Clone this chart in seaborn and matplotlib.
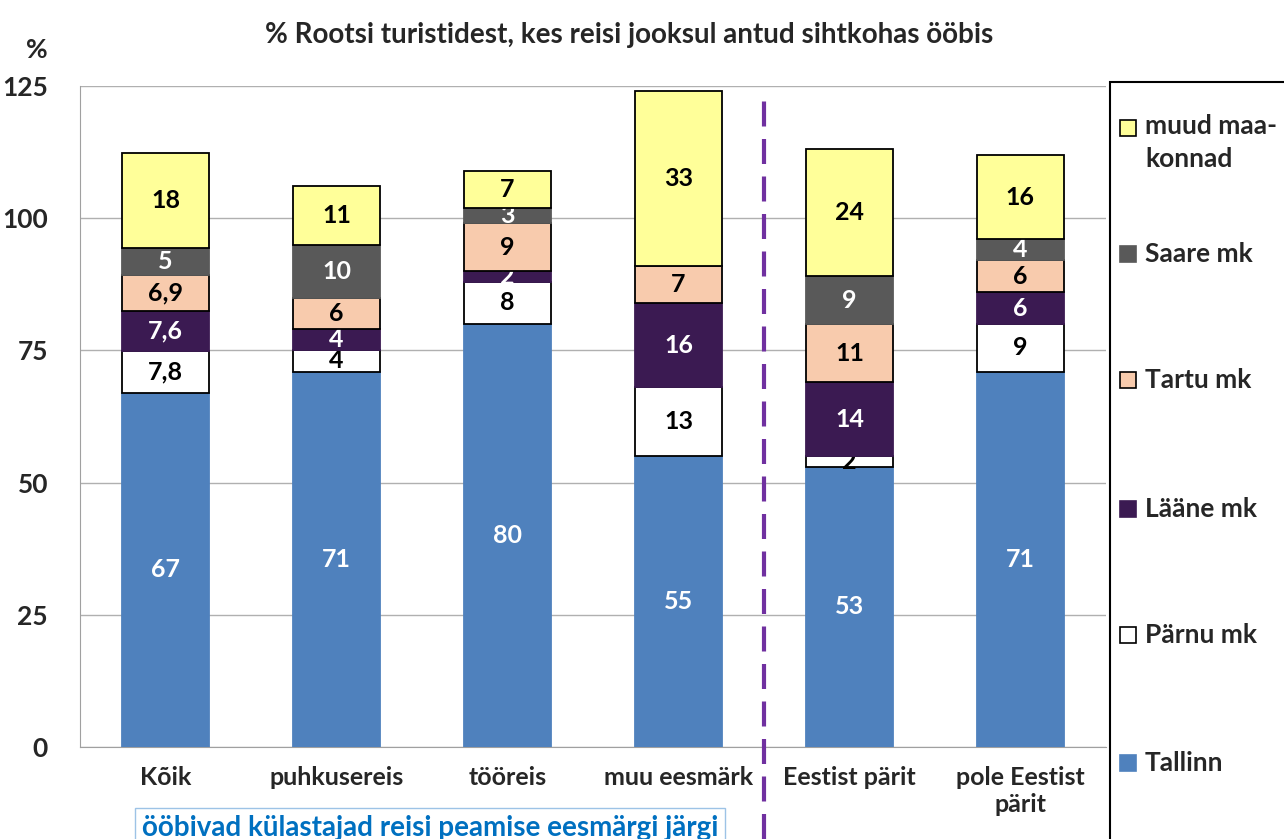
import numpy as np
import pandas as pd
import matplotlib
matplotlib.use("Agg")
import matplotlib.pyplot as plt
import matplotlib.patches as mpatches
import seaborn as sns

### Andmed
kategooriad = ["Kõik", "puhkusereis", "tööreis", "muu eesmärk", "Eestist pärit", "pole Eestist\npärit"]
tallinn = [67, 71, 80, 55, 53, 71]
parnu = [7.8, 4, 8, 13, 2, 9]
laane = [7.6, 4, 2, 16, 14, 6]
tartu = [6.9, 6, 9, 7, 11, 6]
saare = [5, 10, 3, 0, 9, 4]
muud = [18, 11, 7, 33, 24, 16]
y_tikid = [0, 25, 50, 75, 100, 125]

seeriad = ["Tallinn", "Pärnu mk", "Lääne mk", "Tartu mk", "Saare mk", "muud maa-\nkonnad"]
vaartused = [tallinn, parnu, laane, tartu, saare, muud]
varvid = ["#4F81BD", "#FFFFFF", "#3B1A52", "#F8CBAD", "#595959", "#FFFF99"]
servad = ["#4F81BD", "black", "#3B1A52", "black", "#595959", "black"]
sildi_varv = ["white", "black", "white", "black", "white", "black"]

sns.set_style("white")
plt.rcParams["font.family"] = ["Lato", "DejaVu Sans"]
plt.rcParams["font.weight"] = "bold"

fig = plt.figure(figsize = (12.84, 8.39), dpi = 100)
ax = fig.add_axes([0.0623, 0.1097, 0.799, 0.7878])

pohi = np.zeros(len(kategooriad))
for nimi, val, v, e, sv in zip(seeriad, vaartused, varvid, servad, sildi_varv):
    sns.barplot(x = kategooriad, y = val, bottom = pohi, order = kategooriad, color = v,
                edgecolor = e, linewidth = 1.3, width = 0.51, saturation = 1,
                ax = ax, zorder = 3)
    konteiner = ax.containers[-1]
    sildid = [("" if x == 0 else (f"{x:g}".replace(".", ","))) for x in val]
    ax.bar_label(konteiner, labels = sildid, label_type = "center", color = sv,
                 fontsize = 18, fontweight = "bold")
    pohi = pohi + np.array(val)
if ax.get_legend() is not None:
    ax.get_legend().remove()

ax.set_ylim(0, 125)
ax.set_xlim(-0.5, 5.5)
ax.set_yticks(y_tikid, labels = [str(t) for t in y_tikid], fontweight = "bold", fontsize = 19)
ax.set_xticks(range(len(kategooriad)), labels = kategooriad, fontweight = "bold",
              fontsize = 18, linespacing = 1.2)
ax.yaxis.grid(True, color = "#B0B0B0", linewidth = 1, zorder = 0)
ax.set_axisbelow(True)
for s in ["top", "right"]:
    ax.spines[s].set_visible(False)
for s in ["left", "bottom"]:
    ax.spines[s].set_color("#A0A0A0")
ax.tick_params(axis = "y", length = 7, color = "#A0A0A0", pad = 16)
ax.tick_params(axis = "x", which = "major", length = 0, pad = 14)
ax.set_xticks(np.arange(-0.5, 6, 1), minor = True)
ax.tick_params(axis = "x", which = "minor", length = 8, color = "#A0A0A0", direction = "out")
ax.set_xlabel("")
ax.set_ylabel("")

# lilla katkendjoon
ax.axvline(3.5, ymin = -0.14, ymax = 0.995, color = "#7030A0", linewidth = 3,
           dashes = (6, 3), clip_on = False, zorder = 5)

# pealkiri ja %
fig.text(0.49, 0.958, "% Rootsi turistidest, kes reisi jooksul antud sihtkohas ööbis",
         ha = "center", va = "center", fontsize = 20, fontweight = "bold")
fig.text(0.029, 0.94, "%", ha = "center", va = "center", fontsize = 19, fontweight = "bold")

# alumine kast
fig.text(0.335, 0.013, "ööbivad külastajad reisi peamise eesmärgi järgi", ha = "center",
         va = "center", fontsize = 20, fontweight = "bold", color = "#0070C0",
         bbox = dict(facecolor = "white", edgecolor = "#9DC3E6", boxstyle = "square,pad=0.25"))

# legend (käsitsi, nagu Excelis)
leg_y = [763, 635, 509, 380, 254, 128]
for nimi, v, e, y in zip(seeriad, varvid, servad, leg_y):
    yf = 1 - y / 839
    ruut = mpatches.Rectangle((1120 / 1284, yf - 0.0095), 16 / 1284, 16 / 839,
                              transform = fig.transFigure, facecolor = v,
                              edgecolor = ("black" if e == "black" else v), linewidth = 1.2)
    fig.patches.append(ruut)
    if "\n" in nimi:
        fig.text(1145 / 1284, 1 - (y - 14) / 839, nimi, ha = "left", va = "top",
                 fontsize = 19, fontweight = "bold", linespacing = 1.45)
    else:
        fig.text(1145 / 1284, yf, nimi, ha = "left", va = "center",
                 fontsize = 19, fontweight = "bold")
raam = mpatches.Rectangle((0.8645, -0.02), 0.2, 0.9223, transform = fig.transFigure,
                          fill = False, edgecolor = "black", linewidth = 1.5, clip_on = False)
fig.patches.append(raam)

plt.savefig("out.png", dpi = 100)
